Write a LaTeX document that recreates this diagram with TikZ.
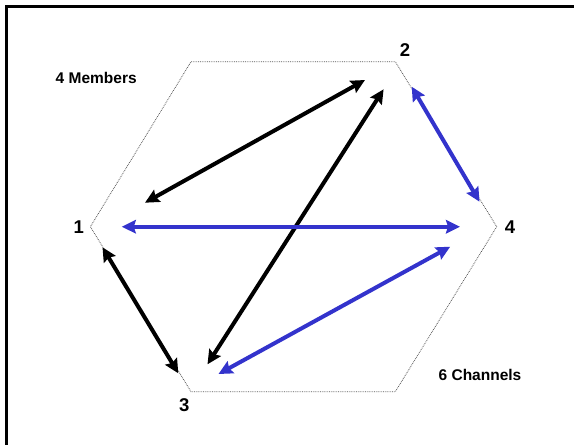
\documentclass[tikz,border=0pt]{standalone}
\usepackage{fontspec}
\setmainfont{Liberation Sans}
\usetikzlibrary{arrows.meta}
\definecolor{ink}{HTML}{000000}
\definecolor{chan}{HTML}{3333CC}
\definecolor{rim}{HTML}{555555}

\begin{document}
\begin{tikzpicture}[x=1pt,y=-1pt,>={Stealth[length=14pt,width=13.5pt,inset=2pt]},
 member/.style={font=\bfseries\fontsize{18.5}{20}\selectfont,inner sep=0pt,anchor=base},
 note/.style={font=\bfseries\fontsize{15.5}{18}\selectfont,inner sep=0pt,anchor=base},
 link/.style={<->,line width=4pt,color=ink},
 bluelink/.style={<->,line width=4pt,color=chan},
 outline/.style={draw=rim,densely dotted,line width=0.8pt}]
\useasboundingbox (0,0) rectangle (574,445);
\draw[line width=2.5pt] (6.7,6.5) rectangle (590,460);
% hexagon
\draw[outline] (191,61.7) -- (395.3,61.7) -- (496.7,226.7) -- (395.3,391.7)
 -- (191,391.7) -- (90.4,226.7) -- cycle;
% members and notes
\node[member] (m1) at (78.8,233.3) {1};
\node[member] (m2) at (405,56.7) {2};
\node[member] (m3) at (184.3,411.7) {3};
\node[member] (m4) at (510,233.3) {4};
\node[note] (members) at (96.2,83.3) {4 Members};
\node[note] (channels) at (480,380) {6 Channels};
% channel ends
\coordinate (c12a) at (145,202.7);
\coordinate (c12b) at (365,80);
\coordinate (c23a) at (383.6,89.3);
\coordinate (c23b) at (207.5,364.3);
\coordinate (c13a) at (102.5,247.3);
\coordinate (c13b) at (178.3,373.3);
\coordinate (c14a) at (121.8,226.7);
\coordinate (c14b) at (460,226.7);
\coordinate (c24a) at (411.7,86.7);
\coordinate (c24b) at (479.5,201.7);
\coordinate (c34a) at (218.5,374);
\coordinate (c34b) at (450.2,246.7);
% channels
\draw[link] (c12a)--(c12b);
\draw[link] (c23a)--(c23b);
\draw[link] (c13a)--(c13b);
\draw[bluelink] (c14a)--(c14b);
\draw[bluelink] (c24a)--(c24b);
\draw[bluelink] (c34a)--(c34b);
\end{tikzpicture}
\end{document}
